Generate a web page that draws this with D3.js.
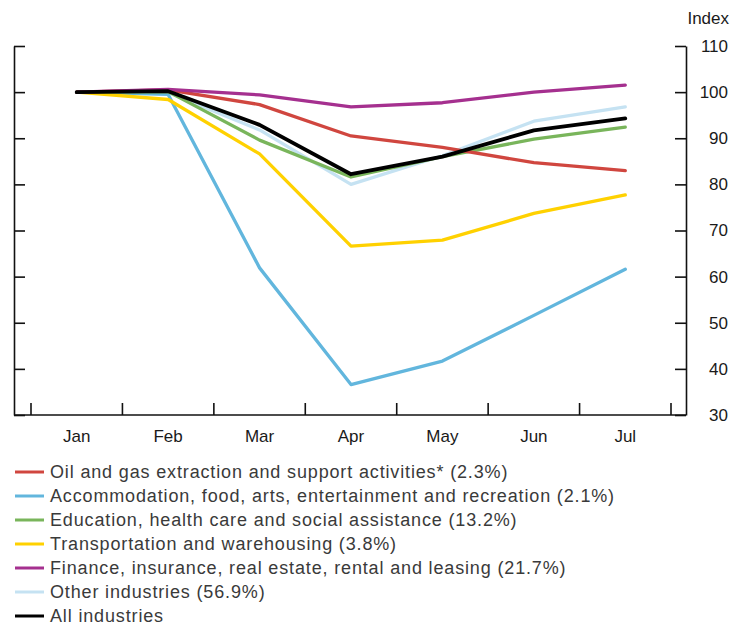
<!DOCTYPE html>
<html lang="en">
<head>
<meta charset="utf-8">
<title>Industry index</title>
<script src="https://cdn.jsdelivr.net/npm/d3@7"></script>
<style>
body { margin:0; background:#fff; }
#chart text { font-family:"Liberation Sans", Arial, sans-serif; fill:#1a1a1a; }
.axis path, .axis line { stroke:#111; stroke-width:1.6px; }
.series { fill:none; stroke-width:3.3px; stroke-linejoin:round; stroke-linecap:round; }
.legend text { fill:#3a3a3a !important; letter-spacing:0.85px; }
</style>
</head>
<body>
<div id="chart"></div>
<script>
var months = ["Jan", "Feb", "Mar", "Apr", "May", "Jun", "Jul"];
var yTicks = [30, 40, 50, 60, 70, 80, 90, 100, 110];

var oilGas   = [100, 100.5, 97.3, 90.5, 88.0, 84.7, 83.0];
var accomm   = [100, 99.5, 61.9, 36.6, 41.7, 51.6, 61.6];
var educ     = [100, 100.1, 89.6, 81.6, 86.0, 89.8, 92.4];
var transp   = [100, 98.4, 86.6, 66.6, 67.9, 73.7, 77.7];
var finance  = [100, 100.6, 99.4, 96.8, 97.7, 100.0, 101.5];
var other    = [100, 99.9, 91.8, 80.0, 86.2, 93.7, 96.8];
var allInd   = [100, 100.2, 92.9, 82.2, 86.0, 91.7, 94.3];

var seriesNames = [
	"Oil and gas extraction and support activities* (2.3%)",
	"Accommodation, food, arts, entertainment and recreation (2.1%)",
	"Education, health care and social assistance (13.2%)",
	"Transportation and warehousing (3.8%)",
	"Finance, insurance, real estate, rental and leasing (21.7%)",
	"Other industries (56.9%)",
	"All industries"
];
var seriesColors = ["#d0463f", "#62b6dd", "#79b55b", "#ffd100", "#a5308f", "#c5e2f2", "#000000"];
var seriesValues = [oilGas, accomm, educ, transp, finance, other, allInd];

// draw order: light ones first, black on top
var drawOrder = [5, 1, 3, 2, 0, 4, 6];

(function(){
	var W = 730, H = 627;
	var svg = d3.select("#chart").append("svg").attr("width", W).attr("height", H);

	var left = 14, right = 686, top = 46, bottom = 415;

	var x = d3.scaleBand().domain(months).range([31, 671]);
	var y = d3.scaleLinear().domain([30, 110]).range([bottom, top]);

	// left axis, ticks pointing in
	svg.append("g").attr("class", "axis")
		.attr("transform", "translate(" + left + ",0)")
		.call(d3.axisRight(y).tickValues(yTicks).tickSize(11).tickSizeOuter(0).tickFormat(""));

	// right axis with labels
	var ra = svg.append("g").attr("class", "axis")
		.attr("transform", "translate(" + right + ",0)")
		.call(d3.axisLeft(y).tickValues(yTicks).tickSize(11).tickSizeOuter(0));
	ra.selectAll("text")
		.attr("x", 42).attr("text-anchor", "end")
		.style("font-size", "17px");

	svg.append("text").attr("x", 729).attr("y", 24).attr("text-anchor", "end")
		.style("font-size", "17px").text("Index");

	// bottom axis
	var bx = svg.append("g").attr("class", "axis");
	bx.append("line").attr("x1", left).attr("x2", right).attr("y1", bottom).attr("y2", bottom);
	var edges = months.map(function(m){ return x(m); }).concat([x(months[months.length-1]) + x.bandwidth()]);
	bx.selectAll(".edge").data(edges).enter().append("line")
		.attr("class", "edge")
		.attr("x1", function(d){ return d; }).attr("x2", function(d){ return d; })
		.attr("y1", bottom).attr("y2", bottom - 12);
	bx.selectAll(".mlab").data(months).enter().append("text")
		.attr("class", "mlab")
		.attr("x", function(d){ return x(d) + x.bandwidth() / 2; })
		.attr("y", 442)
		.attr("text-anchor", "middle")
		.style("font-size", "17px")
		.text(function(d){ return d; });

	var line = d3.line()
		.x(function(d, i){ return x(months[i]) + x.bandwidth() / 2; })
		.y(function(d){ return y(d); });

	svg.append("g").selectAll("path").data(drawOrder).enter().append("path")
		.attr("class", "series")
		.attr("stroke", function(k){ return seriesColors[k]; })
		.style("stroke-width", function(k){ return k === 6 ? "3.8px" : null; })
		.attr("d", function(k){ return line(seriesValues[k]); });

	// legend
	var lg = svg.append("g").attr("class", "legend").attr("transform", "translate(15,472)");
	var rows = lg.selectAll("g").data(seriesNames).enter().append("g")
		.attr("transform", function(d, i){ return "translate(0," + (i * 24) + ")"; });
	rows.append("line").attr("x1", 0).attr("x2", 29).attr("y1", 0).attr("y2", 0)
		.attr("stroke", function(d, i){ return seriesColors[i]; })
		.attr("stroke-width", 3);
	rows.append("text").attr("x", 35).attr("y", 6)
		.style("font-size", "18px")
		.text(function(d){ return d; });
})();
</script>
</body>
</html>
